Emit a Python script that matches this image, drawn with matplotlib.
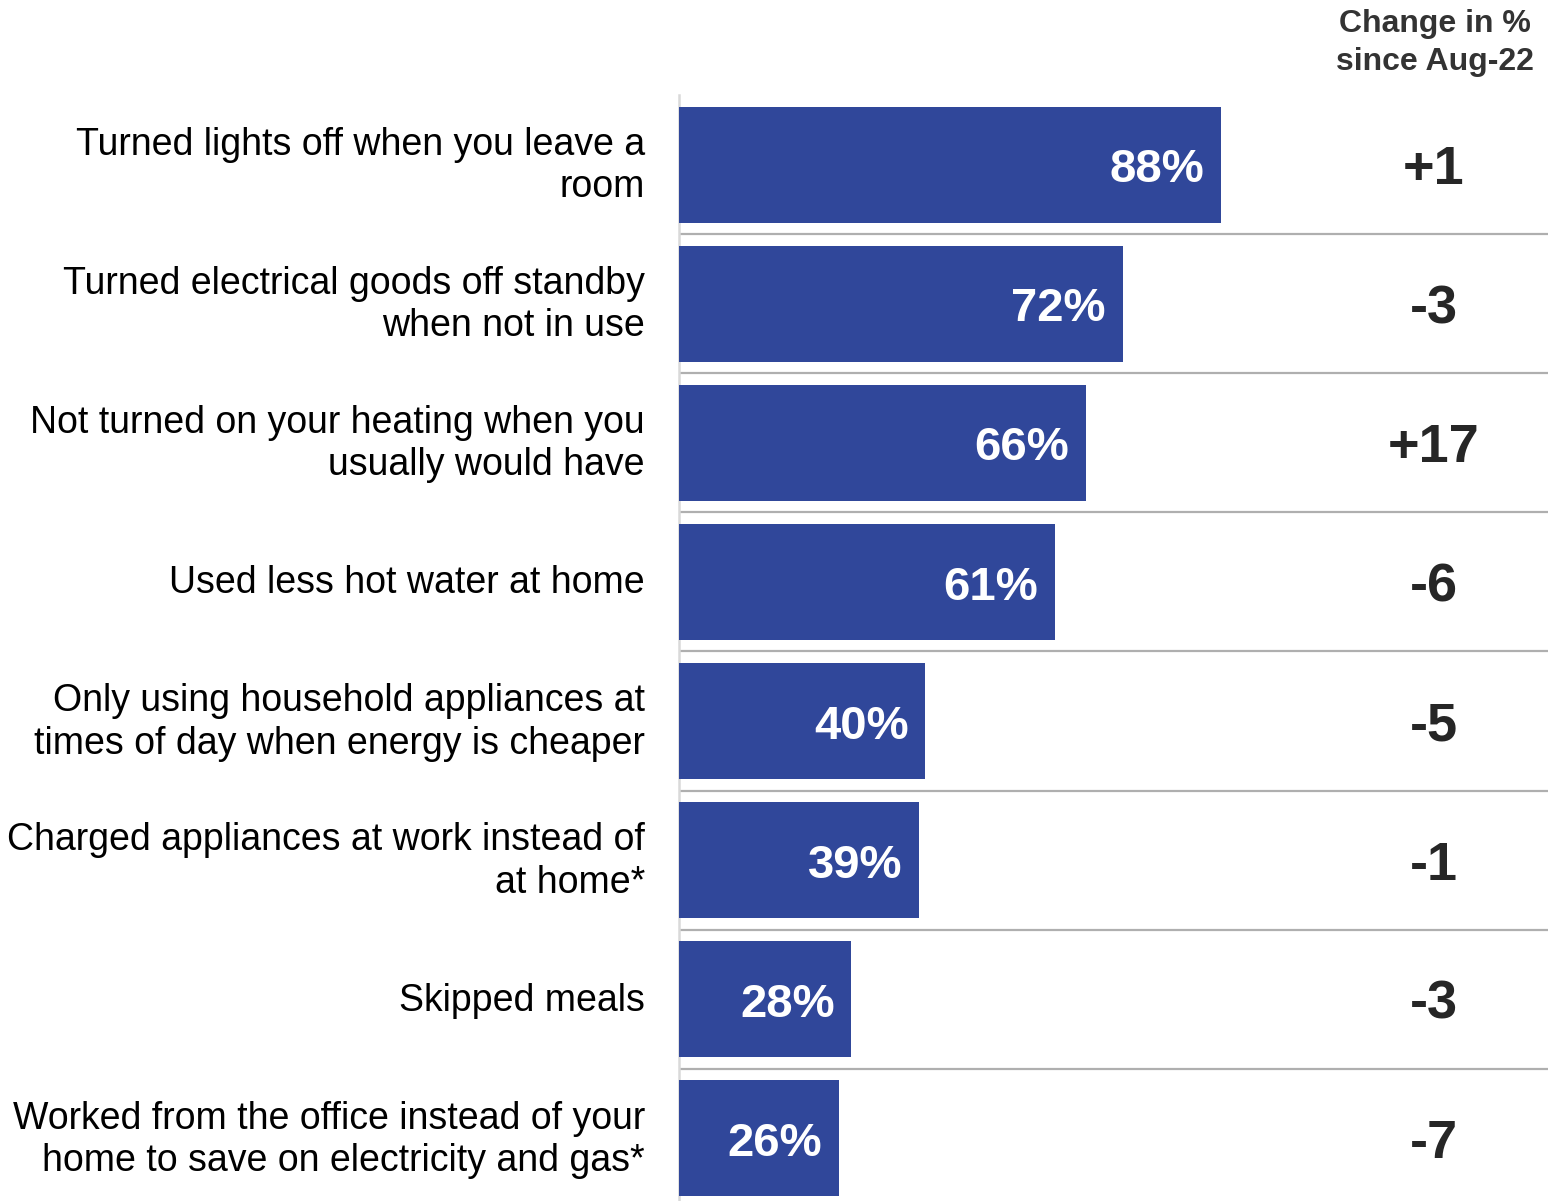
import numpy as np
import matplotlib
matplotlib.use("Agg")
from matplotlib import pyplot as plt
from matplotlib import transforms

plt.rcParams['font.family'] = ['Liberation Sans', 'DejaVu Sans']

# data
categories = [
    "Turned lights off when you leave a\nroom",
    "Turned electrical goods off standby\nwhen not in use",
    "Not turned on your heating when you\nusually would have",
    "Used less hot water at home",
    "Only using household appliances at\ntimes of day when energy is cheaper",
    "Charged appliances at work instead of\nat home*",
    "Skipped meals",
    "Worked from the office instead of your\nhome to save on electricity and gas*",
]
percent = [88, 72, 66, 61, 40, 39, 28, 26]
change = ["+1", "-3", "+17", "-6", "-5", "-1", "-3", "-7"]
header = "Change in %\nsince Aug-22"

bar_color = "#30479A"

fig = plt.figure(figsize=(15.57, 12.01), dpi=100)
ax = fig.add_axes([679/1557, 0, 869/1557, 1106/1201])

y = np.arange(len(categories))
ax.barh(y, percent, height=0.834, color=bar_color, zorder=3)

ax.set_xlim(0, 869/6.16)
ax.set_ylim(7.45, -0.5)

# separators between rows
for i in range(len(categories) - 1):
    ax.axhline(i + 0.5, color="#AFAFAF", lw=1.6, zorder=1)

for s in ["top", "right", "bottom"]:
    ax.spines[s].set_visible(False)
ax.spines["left"].set_color("#D9D9D9")
ax.spines["left"].set_linewidth(1.8)
ax.set_xticks([])
ax.set_yticks([])

# value labels inside bars
for yi, p in zip(y, percent):
    ax.annotate(f"{p}%", xy=(p, yi + 0.127), xytext=(-12, 0), textcoords="offset points",
                ha="right", va="baseline", color="white", fontsize=34,
                fontweight="bold")

# category labels
lab_tr = transforms.blended_transform_factory(fig.transFigure, ax.transData)
for yi, c in zip(y, categories):
    ax.text(645/1557, yi + 0.01, c, transform=lab_tr, ha="right", va="center",
            fontsize=27, color="black", linespacing=1.22)

# change column
for yi, c in zip(y, change):
    ax.text(1434/1557, yi + 0.14, c, transform=lab_tr, ha="center", va="baseline",
            fontsize=39, fontweight="bold", color="#262626")

fig.text(1435/1557, 1 - 43/1201, header, ha="center", va="center",
         fontsize=23, fontweight="bold", color="#333333", linespacing=1.33)

fig.savefig("out.png", dpi=100)
